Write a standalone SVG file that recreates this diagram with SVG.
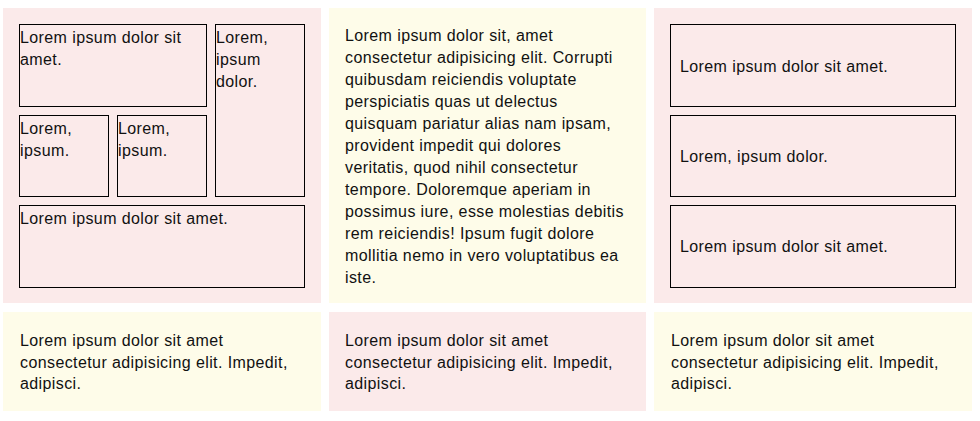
<svg xmlns="http://www.w3.org/2000/svg" width="980" height="421" viewBox="0 0 980 421">
<style>
.pink{fill:#fbeaea}
.yellow{fill:#fefce9}
.box{fill:none;stroke:#000;stroke-width:1}
text{font-family:"Liberation Sans",Arial,Helvetica,sans-serif;font-size:16px;fill:#111;letter-spacing:0.4px}
</style>
<rect width="980" height="421" fill="#ffffff"/>
<g id="panel1">
<rect class="pink" x="3" y="8" width="318" height="295"/>
<g id="p1-box-a"><rect class="box" x="19.5" y="24.5" width="187" height="82"/>
<text x="20" y="42.5">Lorem ipsum dolor sit</text><text x="20" y="64.5">amet.</text></g>
<g id="p1-box-tall"><rect class="box" x="215.5" y="24.5" width="89" height="172"/>
<text x="216" y="42.5">Lorem,</text><text x="216" y="64.5">ipsum</text><text x="216" y="86.5">dolor.</text></g>
<g id="p1-box-s1"><rect class="box" x="19.5" y="115.5" width="89" height="81"/>
<text x="20" y="133.5">Lorem,</text><text x="20" y="155.5">ipsum.</text></g>
<g id="p1-box-s2"><rect class="box" x="117.5" y="115.5" width="89" height="81"/>
<text x="118" y="133.5">Lorem,</text><text x="118" y="155.5">ipsum.</text></g>
<g id="p1-box-bottom"><rect class="box" x="19.5" y="205.5" width="285" height="82"/>
<text x="20" y="223.5">Lorem ipsum dolor sit amet.</text></g>
</g>
<g id="panel2">
<rect class="yellow" x="329" y="8" width="317" height="295"/>
<text x="345" y="41">Lorem ipsum dolor sit, amet</text>
<text x="345" y="63">consectetur adipisicing elit. Corrupti</text>
<text x="345" y="85">quibusdam reiciendis voluptate</text>
<text x="345" y="107">perspiciatis quas ut delectus</text>
<text x="345" y="129">quisquam pariatur alias nam ipsam,</text>
<text x="345" y="151">provident impedit qui dolores</text>
<text x="345" y="173">veritatis, quod nihil consectetur</text>
<text x="345" y="195">tempore. Doloremque aperiam in</text>
<text x="345" y="217">possimus iure, esse molestias debitis</text>
<text x="345" y="239">rem reiciendis! Ipsum fugit dolore</text>
<text x="345" y="261">mollitia nemo in vero voluptatibus ea</text>
<text x="345" y="283">iste.</text>
</g>
<g id="panel3">
<rect class="pink" x="654" y="8" width="318" height="295"/>
<g id="p3-box-1"><rect class="box" x="670.5" y="24.5" width="285" height="82"/>
<text x="680" y="71.5">Lorem ipsum dolor sit amet.</text></g>
<g id="p3-box-2"><rect class="box" x="670.5" y="115.5" width="285" height="81"/>
<text x="680" y="161.5">Lorem, ipsum dolor.</text></g>
<g id="p3-box-3"><rect class="box" x="670.5" y="205.5" width="285" height="82"/>
<text x="680" y="251.5">Lorem ipsum dolor sit amet.</text></g>
</g>
<g id="panel4">
<rect class="yellow" x="3" y="312" width="318" height="99"/>
<text x="20" y="346">Lorem ipsum dolor sit amet</text>
<text x="20" y="367.5">consectetur adipisicing elit. Impedit,</text>
<text x="20" y="389">adipisci.</text>
</g>
<g id="panel5">
<rect class="pink" x="329" y="312" width="317" height="99"/>
<text x="345" y="346">Lorem ipsum dolor sit amet</text>
<text x="345" y="367.5">consectetur adipisicing elit. Impedit,</text>
<text x="345" y="389">adipisci.</text>
</g>
<g id="panel6">
<rect class="yellow" x="654" y="312" width="318" height="99"/>
<text x="671" y="346">Lorem ipsum dolor sit amet</text>
<text x="671" y="367.5">consectetur adipisicing elit. Impedit,</text>
<text x="671" y="389">adipisci.</text>
</g>
<g id="connectors"></g>
</svg>
